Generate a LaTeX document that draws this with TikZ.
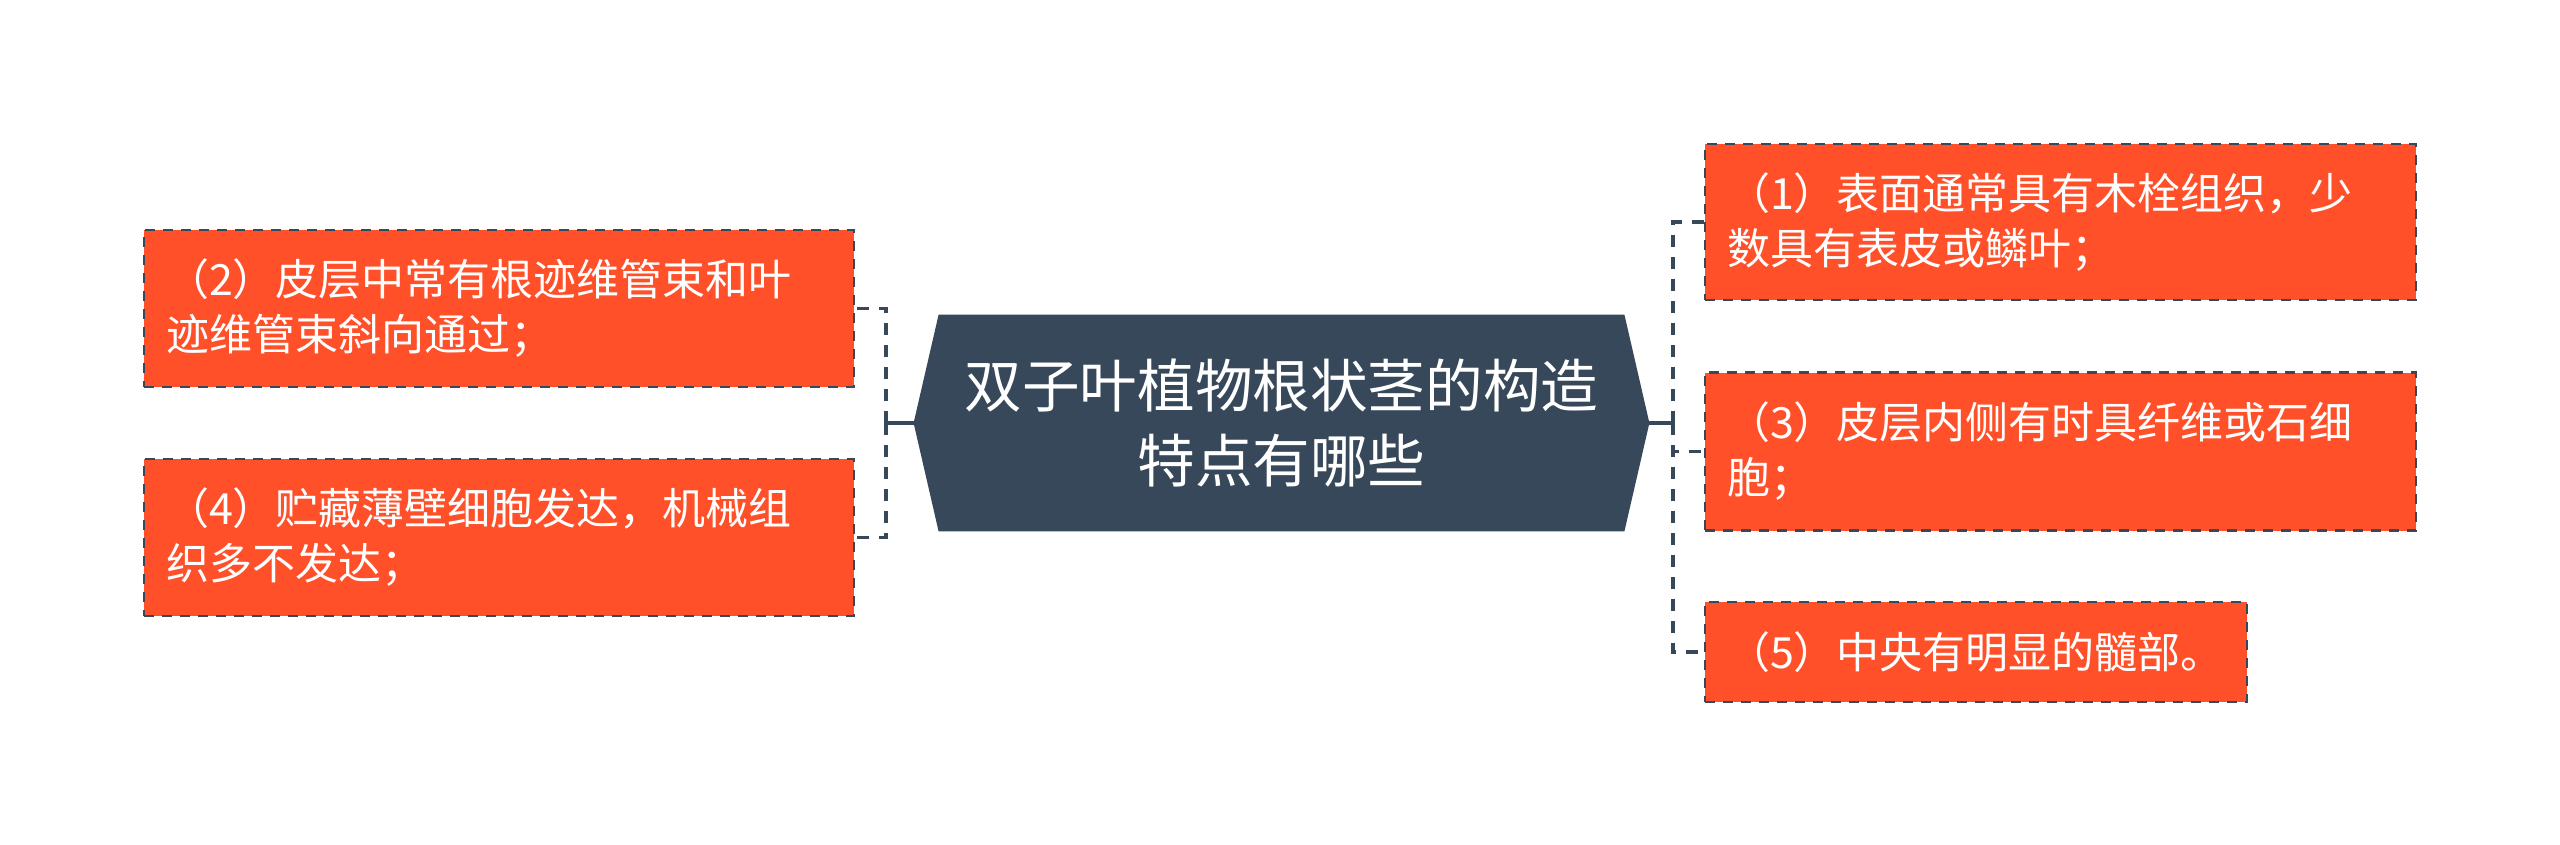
\documentclass[tikz,border=0pt]{standalone}
\usepackage{fontspec}
\newfontfamily\cjk{Noto Sans CJK SC}
\usetikzlibrary{backgrounds}
\definecolor{orangebox}{RGB}{255,80,41}
\definecolor{darkslate}{RGB}{54,72,89}
\begin{document}
\begin{tikzpicture}[x=0.5pt,y=-0.5pt,
  leaf/.style={draw=darkslate, line width=1.4pt, dash pattern=on 5pt off 4pt,
    fill=orangebox, text=white, font=\cjk\fontsize{21.5pt}{27.5pt}\selectfont,
    align=left, inner xsep=11pt, inner ysep=0pt, anchor=center},
  centre/.style={font=\cjk\fontsize{28.8pt}{37.5pt}\selectfont, text=white,
    align=center, minimum width=367.5pt, minimum height=108pt, inner sep=0pt},
  link/.style={draw=darkslate, line width=1.9pt},
  dlink/.style={link, dash pattern=on 6pt off 5pt}]
\useasboundingbox (0,0) rectangle (2560,845);

% central node
\node[centre] (c) at (1281.5,423) {双子叶植物根状茎的构造\\特点有哪些};
\begin{scope}[on background layer]
\fill[darkslate] ([xshift=12.5pt]c.north west) -- ([xshift=-12.5pt]c.north east)
  -- (c.east) -- ([xshift=-12.5pt]c.south east) -- ([xshift=12.5pt]c.south west)
  -- (c.west) -- cycle;
\end{scope}

% left leaves
\node[leaf, text width=333pt, minimum height=78.5pt] (b2) at (499,308.5)
  {（2）皮层中常有根迹维管束和叶\\迹维管束斜向通过；};
\node[leaf, text width=333pt, minimum height=78.5pt] (b4) at (499,537.5)
  {（4）贮藏薄壁细胞发达，机械组\\织多不发达；};

% right leaves
\node[leaf, text width=333.5pt, minimum height=78pt] (b1) at (2060.5,222)
  {（1）表面通常具有木栓组织，少\\数具有表皮或鳞叶；};
\node[leaf, text width=333.5pt, minimum height=79pt] (b3) at (2060.5,451.5)
  {（3）皮层内侧有时具纤维或石细\\胞；};
\node[leaf, text width=249pt, minimum height=50pt] (b5) at (1976,652)
  {（5）中央有明显的髓部。};

% connectors
\coordinate (lj) at (886,423);
\coordinate (rj) at (1673,423);
\draw[link] (c.west) -- (lj);
\draw[dlink] (lj) |- (b2.east);
\draw[dlink] (lj) |- (b4.east);
\draw[link] (c.east) -- (rj);
\draw[dlink] (rj) |- (b1.west);
\draw[dlink] (rj) |- (b3.west);
\draw[dlink] (rj) |- (b5.west);
\end{tikzpicture}
\end{document}
